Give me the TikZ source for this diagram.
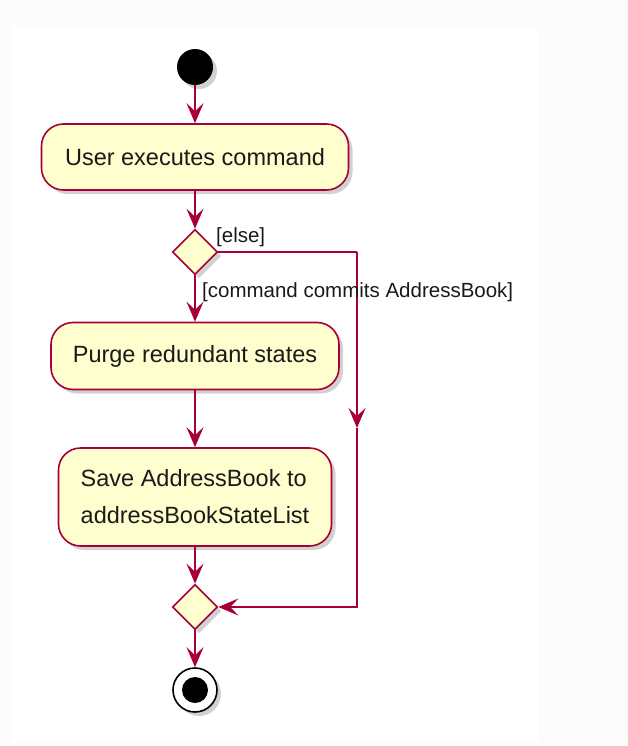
\documentclass[tikz,border=0pt]{standalone}
\usepackage{fontspec}
\setmainfont{Liberation Sans}
\usetikzlibrary{arrows.meta,shadows,shapes.geometric}
\definecolor{umlborder}{HTML}{A80036}
\definecolor{umlfill}{HTML}{FEFECE}
\definecolor{pagebg}{HTML}{FCFCFC}
\definecolor{txt}{HTML}{1A1A1A}
\tikzset{
  shad/.style={drop shadow={shadow xshift=4pt,shadow yshift=-4pt,fill=black!40,opacity=0.45}},
  actbox/.style={draw=umlborder,fill=umlfill,line width=1.6pt,rounded corners=22pt,
    font=\fontsize{23.5}{30}\selectfont,text=txt,inner sep=0pt,shad},
  decision/.style={diamond,draw=umlborder,fill=umlfill,line width=1.6pt,
    minimum width=45pt,minimum height=45pt,inner sep=0pt,shad},
  flow/.style={draw=umlborder,line width=1.6pt,
    -{Stealth[length=20pt,width=17pt,inset=8pt]}},
  flowplain/.style={draw=umlborder,line width=1.6pt},
  guard/.style={font=\fontsize{20.5}{24}\selectfont,text=txt,inner sep=0pt},
}
\begin{document}
\begin{tikzpicture}[x=1pt,y=-1pt]
\fill[pagebg] (0,0) rectangle (628,746);
\fill[white] (12,27) rectangle (538,742);
\useasboundingbox (0,0) rectangle (628,746);

\node[circle,fill=black,minimum size=36pt,inner sep=0pt,shad] (start) at (195,67) {};
\node[actbox,minimum width=307pt,minimum height=66pt] (a1) at (195,157) {User executes command};
\node[decision] (d1) at (195,252) {};
\node[actbox,minimum width=288pt,minimum height=67pt] (a2) at (195,356) {Purge redundant states};
\node[actbox,minimum width=273pt,minimum height=98pt,align=left,
  font=\fontsize{23.5}{37}\selectfont] (a3) at (195,497) {Save AddressBook to\\addressBookStateList};
\node[decision] (d2) at (195,607) {};
\node[circle,draw=black,line width=1.6pt,fill=white,minimum size=44pt,inner sep=0pt,shad] (stop) at (195,690) {};
\node[circle,fill=black,minimum size=26pt,inner sep=0pt] (stopdot) at (stop.center) {};

\coordinate (c1) at (357,252);
\coordinate (c2) at (357,428);
\coordinate (c3) at (357,607);

\draw[flow] (start) -- (a1);
\draw[flow] (a1) -- (d1);
\draw[flow] (d1) -- (a2);
\draw[flow] (a2) -- (a3);
\draw[flow] (a3) -- (d2);
\draw[flow] (d2) -- (stop);
\draw[flowplain] (d1.east) -- (c1);
\draw[flow] (c1) -- (c2);
\draw[flow] (c2) -- (c3) -- (d2.east);

\node[guard,anchor=south west] (g1) at (216,247) {[else]};
\node[guard,anchor=west] (g2) at (202,292) {[command commits AddressBook]};
\end{tikzpicture}
\end{document}
